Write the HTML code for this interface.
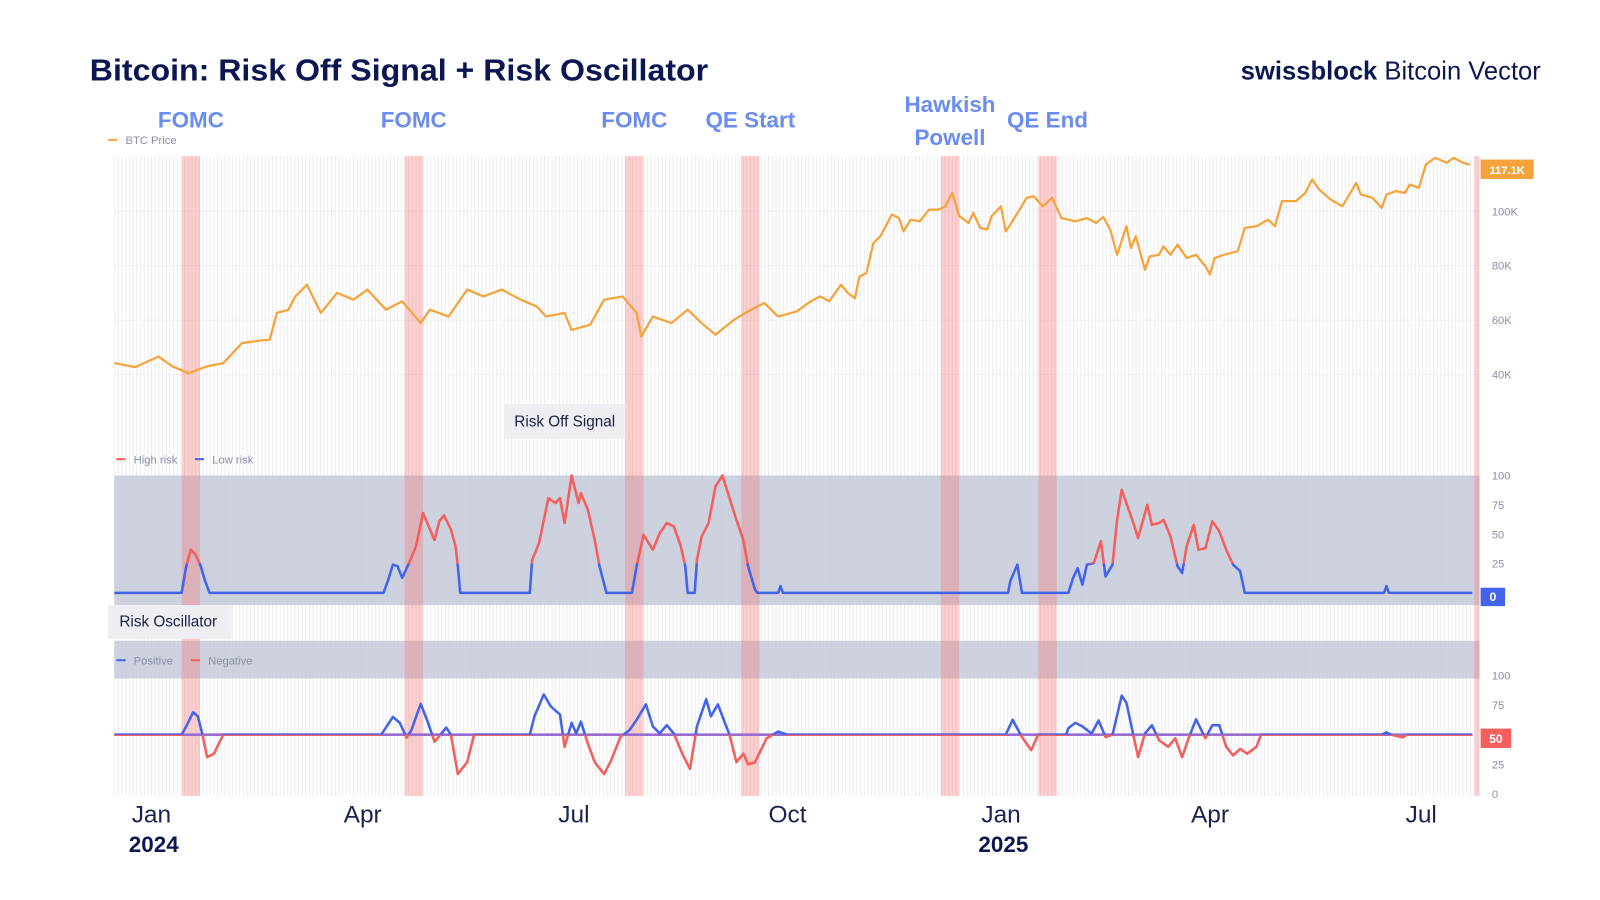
<!DOCTYPE html>
<html><head><meta charset="utf-8"><style>
html,body{margin:0;padding:0;background:#fff;width:1600px;height:900px;overflow:hidden}
svg{display:block;font-family:"Liberation Sans",sans-serif}
</style></head><body>
<svg id="chart" width="1600" height="900" viewBox="0 0 1600 900" xmlns="http://www.w3.org/2000/svg">
<defs>
<pattern id="vgrid" x="112" y="0" width="3.6" height="10" patternUnits="userSpaceOnUse"><rect x="0" y="0" width="1" height="10" fill="#ececf0"/></pattern>
</defs>
<rect x="0" y="0" width="1600" height="900" fill="#fff"/>
<g id="root" transform="scale(1.0204)">
<text x="88" y="79" font-size="30" font-weight="bold" fill="#0b1652" textLength="606" lengthAdjust="spacingAndGlyphs">Bitcoin: Risk Off Signal + Risk Oscillator</text>
<text x="1510" y="78" text-anchor="end" font-size="25" fill="#0b1652" textLength="294" lengthAdjust="spacingAndGlyphs"><tspan font-weight="bold">swissblock</tspan> Bitcoin Vector</text>

<rect x="112" y="153" width="1338" height="627" fill="url(#vgrid)"/>
<g id="hgrid"></g>
<rect x="112" y="466" width="1338" height="127" fill="#c6cad9" opacity="0.85"/>
<rect x="112" y="628" width="1338" height="37" fill="#c6cad9" opacity="0.85"/>

<g id="bands"></g>
<g id="series"></g>
<g id="annotations"></g>
<g id="axes"></g>

<g><rect x="106" y="136" width="9" height="2" fill="#f5a33a"/><text x="123" y="141" font-size="11" fill="#8a8fa8">BTC Price</text></g>
<g><rect x="494" y="396" width="119" height="34" fill="#eeeff3"/><text x="504" y="418" font-size="15" fill="#1a2045">Risk Off Signal</text></g>
<g><rect x="114" y="449" width="9" height="2" fill="#f25f5c"/><text x="131" y="454" font-size="11" fill="#8a8fa8">High risk</text><rect x="191" y="449" width="9" height="2" fill="#4263eb"/><text x="208" y="454" font-size="11" fill="#8a8fa8">Low risk</text></g>
<g><rect x="106" y="593" width="121" height="33" fill="#eeeff3"/><text x="117" y="614" font-size="15" fill="#1a2045">Risk Oscillator</text></g>
<g><rect x="114" y="646" width="9" height="2" fill="#4263eb"/><text x="131" y="651" font-size="11" fill="#8a8fa8">Positive</text><rect x="187" y="646" width="9" height="2" fill="#f25f5c"/><text x="204" y="651" font-size="11" fill="#8a8fa8">Negative</text></g>
</g>
</svg>
<script>
const priceDays=[0,9,19,25,32,40,47,55,63,67,70,75,78,83,89,96,103,109,117,124,132,136,144,152,159,167,175,182,186,194,197,205,211,219,225,227,232,240,247,253,259,267,273,280,286,294,300,304,308,313,316,319,321,324,327,330,335,338,340,343,347,351,355,358,361,364,368,370,373,376,378,382,384,386,390,393,396,400,404,408,414,419,423,426,429,432,436,438,440,444,446,450,452,455,458,462,466,470,472,474,478,484,487,492,497,500,503,509,513,516,519,524,529,535,537,542,546,548,552,556,558,562,565,569,574,577,581,584];
const priceK=[44.2,42.7,46.6,43,40.5,43,44.2,51.5,52.5,52.8,62.6,63.8,68.7,73,62.6,70,67.5,71.2,63.8,66.9,58.9,63.8,61.3,71.2,68.7,71.2,67.5,65,61.3,62.6,56.4,58.3,67.5,68.7,62.6,54,61.3,58.9,63.8,58.9,54.6,60.1,63.2,66.3,61.3,63.2,66.9,68.7,66.9,73,70,68,76,77.3,88.3,90.8,98.8,97.5,92.6,96.9,96.3,100.6,100.6,101.8,106.7,98.2,95.7,99.4,93.9,93.3,98.2,101.8,92.6,95.1,100.6,104.9,105.5,101.8,104.9,97.5,96.3,97.5,95.7,97.9,93.3,84,94.5,86.5,90.8,78.5,83.4,84,87.1,84,87.7,82.8,84,79.8,76.7,82.8,84,85.3,93.9,94.5,96.9,94.5,103.7,103.7,106.7,111.7,108,104.3,101.8,110.4,106.1,104.9,101.2,106.1,107.4,106.7,109.8,108.6,117.2,119.6,117.8,119.6,117.8,117.1];
const riskDays=[0,29,31,33,35,37,39,41,116,118,120,122,124,127,130,133,136,138,140,142,145,147,148,149,179,180,183,187,190,192,194,197,200,201,204,207,209,212,223,225,228,232,235,238,241,244,246,247,250,251,253,256,259,262,265,268,271,273,276,277,286,287,288,385,386,389,391,411,413,415,417,419,422,425,427,430,432,434,437,439,441,445,447,450,452,455,458,460,462,465,467,470,473,476,479,482,485,487,547,548,549,585];
const riskVals=[0,0,22.7,36.8,32.6,24,11,0,0,11,24,22.7,12.7,25.5,40,68,54,45,61,66,54,40,22.7,0,0,28,42.5,80.7,76.5,80.7,59.5,100,76.5,85,70.8,45,22.7,0,0,22.7,49.6,36.8,51,59.5,56.7,40,22.7,0,0,28,48,59.5,90.7,100,80.7,62.3,45,22.7,2.8,0,0,5.7,0,0,10,24,0,0,12.7,21,7,24,25.5,44,14,24,62.3,87.8,70.8,59.5,46.7,75,58,59.5,62.3,48,22.7,17,40,58,36.8,38,61,52.4,36.8,24,18.4,0,0,5.7,0,0];
const oscDays=[0,29,31,34,36,38,40,43,45,47,115,120,123,126,128,132,135,138,143,145,148,152,155,179,181,185,188,192,194,197,199,201,204,207,211,214,218,222,225,229,232,235,238,241,245,248,251,255,257,260,265,268,271,273,276,281,286,290,384,387,391,395,398,410,411,414,417,421,424,427,430,434,436,441,444,447,450,454,457,460,463,466,470,473,476,479,482,485,488,492,494,546,548,550,555,557,585];
const oscVals=[50,50,57,69,65.5,50,31,34,42.5,50,50,65,60,47.4,54,76,61,44,56,50,16.7,26.7,50,50,65.5,84,74,67,39.7,60,51,61,42.5,26.7,16.7,28,48,54,62.6,75.6,57,51,58,51,32.5,21,57,80,65.5,75.6,50,26.7,34,25,26.7,47,52.6,50,50,62.6,48,37,50,50,55.5,60,57,51,62,48,50,83,77,31,51,58,45.4,39.7,47,31,48,63,47,58,58,39.7,32.5,38,34,39.7,50,50,52,50,47.7,50,50];
const eventDays=[33,129,224,274,360,402,587];
const eventLabels=[["FOMC"],["FOMC"],["FOMC"],["QE Start"],["Hawkish","Powell"],["QE End"],[]];
const priceTicks=[40,60,80,100];
const riskTicks=[25,50,75,100];
const oscTicks=[0,25,75,100];
const monthTickDays=[16,107,198,290,382,472,563];
const monthLabels=["Jan","Apr","Jul","Oct","Jan","Apr","Jul"];
const yearTickDays=[17,383];
const yearLabels=["2024","2025"];

const NS="http://www.w3.org/2000/svg";
const X=d=>112+d*2.275;
const YP=v=>207+(100-v)*2.667;
const YR=v=>581-v*1.15;
const YO=v=>778-v*1.16;
function mk(tag,attrs,parent,txt){const e=document.createElementNS(NS,tag);for(const k in attrs)e.setAttribute(k,attrs[k]);if(txt!==undefined)e.textContent=txt;parent.appendChild(e);return e;}
const svg=document.getElementById('chart');
const defs=svg.querySelector('defs');
const hgrid=document.getElementById('hgrid');
const bands=document.getElementById('bands');
const series=document.getElementById('series');
const ann=document.getElementById('annotations');
const axes=document.getElementById('axes');

priceTicks.forEach(v=>{
  const l=mk('line',{x1:112,x2:1450,y1:YP(v),y2:YP(v),stroke:'#eef0f4','stroke-width':1},hgrid);
  
  
  const t=mk('text',{x:1462,y:YP(v)+4,'font-size':11,fill:'#8a8fa8'},axes,v+'K');
  
  
});
riskTicks.forEach(v=>{
  const t=mk('text',{x:1462,y:YR(v)+4,'font-size':11,fill:'#8a8fa8'},axes,String(v));
  
  
});
oscTicks.forEach(v=>{
  const t=mk('text',{x:1462,y:YO(v)+4,'font-size':11,fill:'#8a8fa8'},axes,String(v));
  
  
});

eventDays.forEach((d,i)=>{
  const w=i===eventDays.length-1?5:18;
  const r=mk('rect',{x:X(d)-w/2,y:153,width:w,height:627,fill:'rgba(248,110,110,0.33)'},bands);
  
  
  const lines=eventLabels[i];
  lines.forEach((s,j)=>{
    const y=lines.length>1?110+j*32:125;
    const t=mk('text',{x:X(d),y:y,'text-anchor':'middle','font-size':22,'font-weight':'bold',fill:'#6b8cf0'},ann,s);
    
    
  });
});

function path(days,vals,Y){return days.map((d,i)=>(i?'L':'M')+X(d).toFixed(1)+','+Y(vals[i]).toFixed(1)).join(' ');}

const pp=mk('path',{d:path(priceDays,priceK,YP),fill:'none',stroke:'#f5a33a','stroke-width':2.2,'stroke-linejoin':'round'},series);



const c1=mk('clipPath',{id:'riskHigh'},defs);mk('rect',{x:100,y:0,width:1400,height:YR(25)},c1);
const c2=mk('clipPath',{id:'riskLow'},defs);mk('rect',{x:100,y:YR(25),width:1400,height:400},c2);
const c3=mk('clipPath',{id:'oscPos'},defs);mk('rect',{x:100,y:0,width:1400,height:YO(50)},c3);
const c4=mk('clipPath',{id:'oscNeg'},defs);mk('rect',{x:100,y:YO(50),width:1400,height:300},c4);

const rd=path(riskDays,riskVals,YR);
const rl=mk('path',{d:rd,fill:'none',stroke:'#4263eb','stroke-width':2.5,'clip-path':'url(#riskLow)','stroke-linejoin':'round'},series);


const rh=mk('path',{d:rd,fill:'none',stroke:'#f25f5c','stroke-width':2.5,'clip-path':'url(#riskHigh)','stroke-linejoin':'round'},series);



const od=path(oscDays,oscVals,YO);
const ob=mk('path',{d:'M112,'+YO(50)+' L1443,'+YO(50),fill:'none',stroke:'#9a6bd0','stroke-width':2.5},series);


const op=mk('path',{d:od,fill:'none',stroke:'#4263eb','stroke-width':2.5,'clip-path':'url(#oscPos)','stroke-linejoin':'round'},series);


const on=mk('path',{d:od,fill:'none',stroke:'#f25f5c','stroke-width':2.5,'clip-path':'url(#oscNeg)','stroke-linejoin':'round'},series);



const lastP=priceK[priceK.length-1], lastR=riskVals[riskVals.length-1], lastO=oscVals[oscVals.length-1];
const b1=mk('g',{},axes);


mk('rect',{x:1451,y:YP(lastP)-5,width:52,height:19,fill:'#f5a33a'},b1);
mk('text',{x:1477,y:YP(lastP)+9,'text-anchor':'middle','font-size':11,'font-weight':'bold',fill:'#fff'},b1,lastP.toFixed(1)+'K');
const b2=mk('g',{},axes);


mk('rect',{x:1451,y:YR(lastR)-5,width:24,height:18,fill:'#4263eb'},b2);
mk('text',{x:1463,y:YR(lastR)+8,'text-anchor':'middle','font-size':12,'font-weight':'bold',fill:'#fff'},b2,String(Math.round(lastR)));
const b3=mk('g',{},axes);


mk('rect',{x:1451,y:YO(lastO)-6,width:30,height:19,fill:'#f25f5c'},b3);
mk('text',{x:1466,y:YO(lastO)+8,'text-anchor':'middle','font-size':12,'font-weight':'bold',fill:'#fff'},b3,String(Math.round(lastO)));

monthTickDays.forEach((d,i)=>{
  const t=mk('text',{x:X(d),y:806,'text-anchor':'middle','font-size':24,fill:'#1a2252'},axes,monthLabels[i]);
  
  
});
yearTickDays.forEach((d,i)=>{
  const t=mk('text',{x:X(d),y:835,'text-anchor':'middle','font-size':22,'font-weight':'bold',fill:'#0b1652'},axes,yearLabels[i]);
  
  
});
</script>
</body></html>
